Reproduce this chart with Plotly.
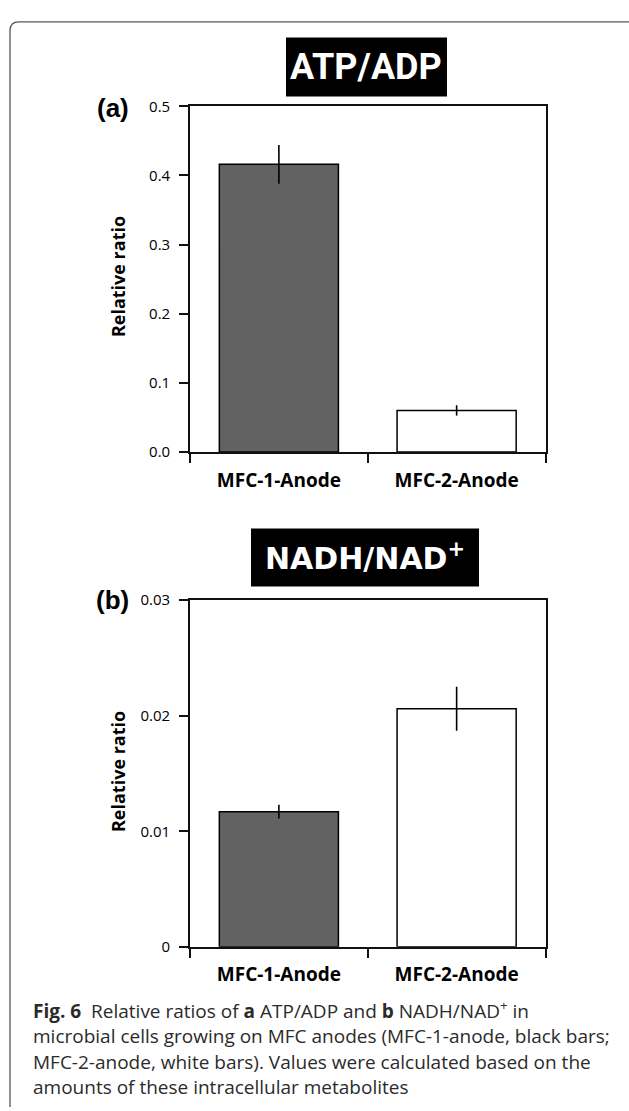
import plotly.graph_objects as go

W, H = 629, 1111

categories = ["MFC-1-Anode", "MFC-2-Anode"]
atp_values = [0.416, 0.060]
atp_errors = [0.028, 0.0075]
nadh_values = [0.0117, 0.0206]
nadh_errors = [0.0006, 0.0019]
bar_colors = ["#626262", "#ffffff"]
atp_ticks = [0.0, 0.1, 0.2, 0.3, 0.4, 0.5]
atp_ticktext = ["0.0", "0.1", "0.2", "0.3", "0.4", "0.5"]
nadh_ticks = [0.0, 0.01, 0.02, 0.03]
nadh_ticktext = ["0", "0.01", "0.02", "0.03"]
caption_lines = [
    "<b>Fig.\u00a06</b>\u00a0\u00a0Relative ratios of <b>a</b> ATP/ADP and <b>b</b> NADH/NAD<sup>+</sup> in",
    "microbial cells growing on MFC anodes (MFC-1-anode, black bars;",
    "MFC-2-anode, white bars). Values were calculated based on the",
    "amounts of these intracellular metabolites",
]


def px(x):
    return x / W


def py(y):
    return 1 - y / H


fig = go.Figure()
fig.add_trace(go.Bar(
    x=categories, y=atp_values, width=0.67,
    marker=dict(color=bar_colors, line=dict(color="black", width=1.5)),
    error_y=dict(type="data", array=atp_errors, color="black", thickness=1.6, width=0),
    xaxis="x", yaxis="y", showlegend=False,
))
fig.add_trace(go.Bar(
    x=categories, y=nadh_values, width=0.67,
    marker=dict(color=bar_colors, line=dict(color="black", width=1.5)),
    error_y=dict(type="data", array=nadh_errors, color="black", thickness=1.6, width=0),
    xaxis="x2", yaxis="y2", showlegend=False,
))

tickfont = dict(family="Open Sans, sans-serif", size=15, color="black")
xtickfont = dict(family="Open Sans, sans-serif", size=19, color="black", weight="bold")

common_x = dict(
    type="category", showline=True, linecolor="#111", linewidth=1.6, mirror=True,
    ticks="outside", ticklen=9, tickwidth=1.6, tickcolor="#111", tickson="boundaries",
    showgrid=False, tickfont=xtickfont, ticklabelstandoff=10, fixedrange=True,
)
common_y = dict(
    showline=True, linecolor="#111", linewidth=1.6, mirror=True,
    ticks="outside", ticklen=9, tickwidth=1.6, tickcolor="#111",
    showgrid=False, zeroline=False, tickfont=tickfont, ticklabelstandoff=6, fixedrange=True,
)

fig.update_layout(
    width=W, height=H,
    margin=dict(l=0, r=0, t=0, b=0),
    paper_bgcolor="white", plot_bgcolor="white",
    bargap=0.33,
    xaxis=dict(domain=[px(190), px(545.5)], anchor="y", **common_x),
    yaxis=dict(domain=[py(449), py(97)], anchor="x", range=[0, 0.5],
               tickvals=atp_ticks, ticktext=atp_ticktext, **common_y),
    xaxis2=dict(domain=[px(190), px(545.5)], anchor="y2", **common_x),
    yaxis2=dict(domain=[py(953), py(600)], anchor="x2", range=[0, 0.03],
                tickvals=nadh_ticks, ticktext=nadh_ticktext, **common_y),
)

shapes = []
# outer rounded frame
fx, fy, r = 10, 11, 9
path = (f"M {px(fx)},{py(H + 5)} L {px(fx)},{py(fy + r)} "
        f"Q {px(fx)},{py(fy)} {px(fx + r)},{py(fy)} L {px(W + 5)},{py(fy)}")
shapes.append(dict(type="path", xref="paper", yref="paper", path=path,
                   line=dict(color="#555", width=1.3)))
# title boxes
shapes.append(dict(type="rect", xref="paper", yref="paper",
                   x0=px(286), x1=px(447), y0=py(87), y1=py(27),
                   fillcolor="black", line=dict(width=0)))
shapes.append(dict(type="rect", xref="paper", yref="paper",
                   x0=px(251), x1=px(479), y0=py(586), y1=py(527),
                   fillcolor="black", line=dict(width=0)))
fig.update_layout(shapes=shapes)

ann = []
ann.append(dict(text="ATP/ADP", x=px(366.5), y=py(57), xref="paper", yref="paper",
                showarrow=False, xanchor="center", yanchor="middle",
                font=dict(family="Liberation Sans Narrow, Roboto, sans-serif", size=36,
                          color="white", weight="bold")))
ann.append(dict(text="NADH/NAD<sup>+</sup>", x=px(365), y=py(556), xref="paper", yref="paper",
                showarrow=False, xanchor="center", yanchor="middle",
                font=dict(family="DejaVu Sans, sans-serif", size=30,
                          color="white", weight="bold")))
for lab, yc in (("(a)", 99), ("(b)", 600)):
    ann.append(dict(text=f"<b>{lab}</b>", x=px(112.5), y=py(yc), xref="paper", yref="paper",
                    showarrow=False, xanchor="center", yanchor="middle",
                    font=dict(family="Liberation Sans, Arial, sans-serif", size=26, color="black")))
for yc in (271, 775):
    ann.append(dict(text="<b>Relative ratio</b>", x=px(118), y=py(yc), xref="paper", yref="paper",
                    showarrow=False, xanchor="center", yanchor="middle", textangle=-90,
                    font=dict(family="Open Sans, sans-serif", size=18, color="black")))
for line, yc in zip(caption_lines, (1017, 1043.5, 1070, 1096)):
    ann.append(dict(text=line, x=px(31), y=py(yc), xref="paper", yref="paper",
                    showarrow=False, xanchor="left", yanchor="middle", align="left",
                    font=dict(family="Open Sans, sans-serif", size=19, color="#2b2b2b")))
fig.update_layout(annotations=ann)

fig.write_html("out.html")
